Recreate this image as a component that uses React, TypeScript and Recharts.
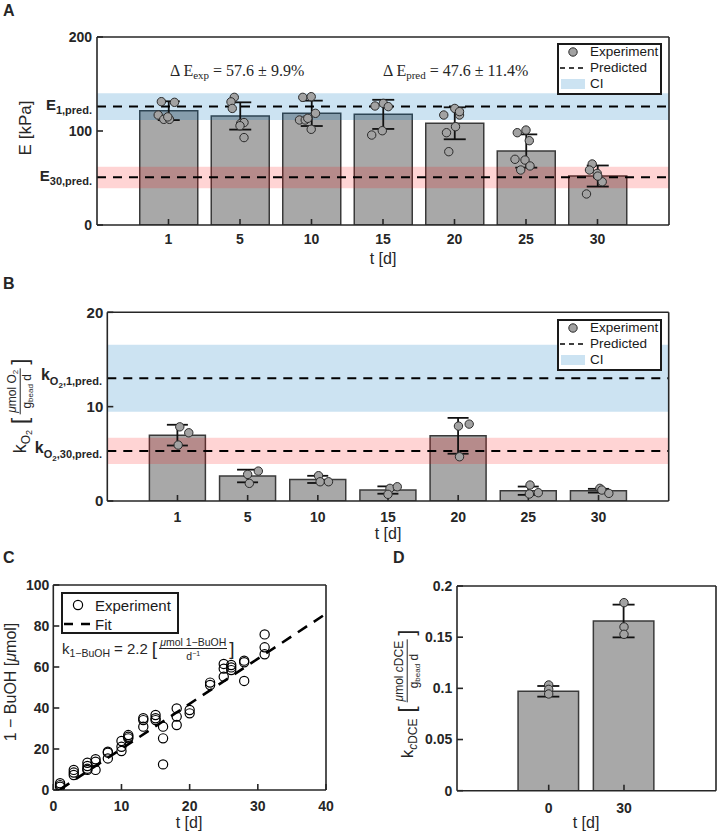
import React from "react";
import {
  Bar,
  ComposedChart,
  ErrorBar,
  Line,
  ReferenceArea,
  ReferenceLine,
  Scatter,
  XAxis,
  YAxis
} from "recharts";

const SANS = "'Liberation Sans', Arial, Helvetica, sans-serif";
const SERIF = "'Liberation Serif', 'Times New Roman', serif";
const INK = "#262626";

// shared day categories for A and B
const days = ["1", "5", "10", "15", "20", "25", "30"];
const dayPos = [1, 2, 3, 4, 5, 6, 7];

// A: E [kPa]
const eMean = [121.6, 116, 118.8, 117.7, 108.2, 78.7, 52.1];
const eSd = [10, 14.5, 13.5, 15.5, 17, 17.7, 11.2];
const eSamples = [
  [131.2, 130.5, 117, 112.4, 112.4, 115],
  [135.8, 131, 124, 108, 109, 105.6, 93],
  [135.8, 136.5, 118.8, 111.7, 111.7, 113.5, 101.8],
  [126.6, 129.4, 125.9, 95.7, 100.3],
  [124, 117, 117, 120.6, 104.6, 98.2, 78],
  [98.2, 101, 89.7, 69.9, 69.1, 62.8, 58.5],
  [64.9, 58.5, 54.9, 46, 33, 52]
];
const eJitter = [
  [-0.1, 0.084, -0.144, -0.066, 0.014, -0.01],
  [-0.08, -0.126, -0.108, 0.01, 0.056, 0, 0.056],
  [-0.122, -0.004, 0.056, -0.168, -0.088, -0.052, -0.004],
  [-0.112, 0.004, 0.074, -0.158, -0.01],
  [0.004, -0.15, 0.07, 0.07, 0.014, -0.112, -0.08],
  [-0.122, 0, 0.046, -0.154, -0.014, 0.056, -0.074],
  [-0.074, -0.112, -0.004, 0.066, -0.154, 0.004]
];
const ePred1 = 126;
const ePred30 = 50.7;
const eCi1 = [111.7, 140.1];
const eCi30 = [39, 62];

// B: k_O2
const kMean = [6.98, 2.65, 2.29, 1.16, 6.91, 1.09, 1.09];
const kSd = [1.1, 0.67, 0.38, 0.39, 1.9, 0.44, 0.2];
const kSamples = [
  [7.86, 7.23, 5.93],
  [2.82, 3.17, 1.87],
  [2.68, 2.04, 2.04],
  [1.34, 1.51, 0.71],
  [7.94, 8.15, 4.69],
  [1.69, 0.74, 0.88],
  [1.34, 1.16, 0.81]
];
const kJitter = [
  [0.033, 0.161, 0.01],
  [0, 0.152, 0.024],
  [0.01, 0.033, 0.152],
  [0.028, 0.132, 0],
  [0.004, 0.157, 0.019],
  [0.024, 0.014, 0.142],
  [0.019, 0.047, 0.147]
];
const kPred1 = 13.0;
const kPred30 = 5.3;
const kCi1 = [9.46, 16.56];
const kCi30 = [3.92, 6.7];

// C: 1-BuOH
const buohT = [1, 1, 1, 3, 3, 3, 5, 5, 5, 5, 6.2, 6.2, 6.2, 8, 8, 8, 10, 10, 10, 11, 11, 11, 13.2, 13.2, 13.2, 15, 15, 15, 16.1, 16.1, 16.1, 18.1, 18.1, 18.1, 20, 20, 23, 23, 25, 25, 25, 26.1, 26.1, 26.1, 28, 28, 28, 31, 31, 31];
const buohV = [3.3, 2.4, 1.6, 9.8, 8.5, 7.3, 13.3, 11.7, 10.4, 9.8, 15, 13.8, 9.8, 18.7, 18.2, 15.4, 23.9, 21.1, 19, 26.8, 26, 25.2, 35, 34.1, 30.9, 36.6, 35, 34.1, 30.9, 25.2, 12.5, 39.8, 35.8, 31.7, 39, 37.4, 52.4, 51.2, 61.5, 59.2, 55.3, 61, 59.8, 58.5, 63.1, 62.3, 53.2, 75.9, 69.6, 66.2];
const fitT = [1, 40];
const fitV = [0.3, 86];

// D: k_cDCE
const dDays = ["0", "30"];
const dPos = [1, 2];
const dMean = [0.0971, 0.1658];
const dSd = [0.0052, 0.016];
const dSamples = [
  [0.1033, 0.099, 0.0945],
  [0.1837, 0.16, 0.1528]
];

const eRows = dayPos.map((x, i) => ({ x, v: eMean[i], err: eSd[i] }));
const ePts = eSamples.flatMap((g, i) => g.map((v, j) => ({ x: dayPos[i] + eJitter[i][j], v })));
const kRows = dayPos.map((x, i) => ({ x, v: kMean[i], err: kSd[i] }));
const kPts = kSamples.flatMap((g, i) => g.map((v, j) => ({ x: dayPos[i] + kJitter[i][j], v })));
const buohPts = buohT.map((x, i) => ({ x, v: buohV[i] }));
const fitRows = fitT.map((x, i) => ({ x, v: fitV[i] }));
const dRows = dPos.map((x, i) => ({ x, v: dMean[i], err: dSd[i] }));
const dPts = dSamples.flatMap((g, i) => g.map((v) => ({ x: dPos[i], v })));

const frame = { stroke: INK, strokeWidth: 1.6 };
const tickFont = { fontSize: 14, fontWeight: 700, fill: INK, fontFamily: SANS };

function GrayDot(props: any) {
  return <circle cx={props.cx} cy={props.cy} r={4.2} fill="#a2a2a2" stroke="#2a2a2a" strokeWidth={1} />;
}

function OpenDot(props: any) {
  return <circle cx={props.cx} cy={props.cy} r={4.6} fill="none" stroke="#000" strokeWidth={1.2} />;
}

function At({ x, y, w = 200, align = "left", children, style }: any) {
  const st: React.CSSProperties = { position: "absolute", top: y, whiteSpace: "nowrap", lineHeight: 1, ...style };
  if (align === "right") {
    st.left = x - w;
    st.width = w;
    st.textAlign = "right";
  } else if (align === "center") {
    st.left = x - w / 2;
    st.width = w;
    st.textAlign = "center";
  } else {
    st.left = x;
  }
  return <div style={st}>{children}</div>;
}

function VLabel({ cx, cy, children, style }: any) {
  return (
    <div
      style={{
        position: "absolute",
        left: cx,
        top: cy,
        transform: "translate(-50%, -50%) rotate(-90deg)",
        whiteSpace: "nowrap",
        lineHeight: 1,
        display: "flex",
        alignItems: "center",
        ...style
      }}
    >
      {children}
    </div>
  );
}

function Sub({ size, dy, children, style }: any) {
  return <span style={{ fontSize: size, position: "relative", top: dy, ...style }}>{children}</span>;
}

function Frac({ num, den, size }: any) {
  return (
    <span
      style={{
        display: "inline-flex",
        flexDirection: "column",
        alignItems: "center",
        fontSize: size,
        lineHeight: 1.15,
        margin: "0 2px"
      }}
    >
      <span style={{ borderBottom: `1px solid ${INK}`, padding: "0 1px" }}>{num}</span>
      <span>{den}</span>
    </span>
  );
}

function PredLegend({ x, y }: any) {
  const row = (top: number, icon: React.ReactNode, label: string) => (
    <div style={{ position: "absolute", left: 0, top, height: 16, width: 101, display: "flex", alignItems: "center" }}>
      <svg width={28} height={16} style={{ flex: "none" }}>
        {icon}
      </svg>
      <span style={{ marginLeft: 3, fontSize: 13.5 }}>{label}</span>
    </div>
  );
  return (
    <div
      style={{
        position: "absolute",
        left: x,
        top: y,
        width: 105,
        height: 52,
        border: "2px solid #1a1a1a",
        boxSizing: "border-box",
        background: "#fff",
        fontFamily: SANS,
        color: "#1a1a1a",
        lineHeight: 1
      }}
    >
      {row(-1, <circle cx={14} cy={8} r={4.2} fill="#a2a2a2" stroke="#2a2a2a" />, "Experiment")}
      {row(15, <line x1={1} x2={27} y1={8} y2={8} stroke="#000" strokeWidth={1.5} strokeDasharray="5 4" />, "Predicted")}
      {row(31, <rect x={2} y={3} width={24} height={10} fill="#0072bd" fillOpacity={0.2} />, "CI")}
    </div>
  );
}

export default function App() {
  return (
    <div
      style={{
        position: "absolute",
        left: 0,
        top: 0,
        width: 719,
        height: 837,
        background: "#fff",
        overflow: "hidden",
        fontFamily: SANS,
        color: INK
      }}
    >
      {/* A */}
      <div style={{ position: "absolute", left: 0, top: 0 }}>
        <ComposedChart width={719} height={270} data={eRows} margin={{ top: 36, right: 49, bottom: 15, left: 57 }}>
          <XAxis xAxisId="b" dataKey="x" type="number" domain={[0, 8]} ticks={dayPos} tickFormatter={(v) => days[v - 1]} height={30} tickSize={-6} tickMargin={15} tick={tickFont} axisLine={frame} tickLine={frame} allowDataOverflow interval={0} />
          <XAxis xAxisId="t" dataKey="x" orientation="top" type="number" domain={[0, 8]} ticks={dayPos} height={1} tick={false} tickSize={-6} axisLine={frame} tickLine={frame} allowDataOverflow />
          <YAxis yAxisId="l" type="number" domain={[0, 200]} ticks={[0, 100, 200]} width={40} tickSize={-6} tickMargin={11} tick={tickFont} axisLine={frame} tickLine={frame} allowDataOverflow interval={0} />
          <YAxis yAxisId="r" orientation="right" type="number" domain={[0, 200]} ticks={[0, 100, 200]} width={1} tick={false} tickSize={-6} axisLine={frame} tickLine={frame} allowDataOverflow />
          <Bar xAxisId="b" yAxisId="l" dataKey="v" barSize={58} fill="#a8a8a8" stroke="#3a3a3a" strokeWidth={1.5} isAnimationActive={false}>
            <ErrorBar dataKey="err" width={11} stroke="#111" strokeWidth={1.8} direction="y" />
          </Bar>
          <ReferenceArea xAxisId="b" yAxisId="l" y1={eCi1[0]} y2={eCi1[1]} fill="#0072bd" fillOpacity={0.2} stroke="none" zIndex={350} />
          <ReferenceArea xAxisId="b" yAxisId="l" y1={eCi30[0]} y2={eCi30[1]} fill="#ff0000" fillOpacity={0.17} stroke="none" zIndex={350} />
          <ReferenceLine xAxisId="b" yAxisId="l" y={ePred1} stroke="#000" strokeWidth={2} strokeDasharray="9 7" zIndex={400} />
          <ReferenceLine xAxisId="b" yAxisId="l" y={ePred30} stroke="#000" strokeWidth={2} strokeDasharray="9 7" zIndex={400} />
          <Scatter xAxisId="t" yAxisId="l" data={ePts} dataKey="v" shape={<GrayDot />} isAnimationActive={false} />
        </ComposedChart>
      </div>

      {/* B */}
      <div style={{ position: "absolute", left: 0, top: 270 }}>
        <ComposedChart width={719} height={270} data={kRows} margin={{ top: 41.3, right: 49.3, bottom: 9, left: 67.3 }}>
          <XAxis xAxisId="b" dataKey="x" type="number" domain={[0, 8]} ticks={dayPos} tickFormatter={(v) => days[v - 1]} height={30} tickSize={-6} tickMargin={17} tick={tickFont} axisLine={frame} tickLine={frame} allowDataOverflow interval={0} />
          <XAxis xAxisId="t" dataKey="x" orientation="top" type="number" domain={[0, 8]} ticks={dayPos} height={1} tick={false} tickSize={-6} axisLine={frame} tickLine={frame} allowDataOverflow />
          <YAxis yAxisId="l" type="number" domain={[0, 20]} ticks={[0, 10, 20]} width={40} tickSize={-6} tickMargin={10} tick={{ ...tickFont, fontSize: 15 }} axisLine={frame} tickLine={frame} allowDataOverflow interval={0} />
          <YAxis yAxisId="r" orientation="right" type="number" domain={[0, 20]} ticks={[0, 10, 20]} width={1} tick={false} tickSize={-6} axisLine={frame} tickLine={frame} allowDataOverflow />
          <Bar xAxisId="b" yAxisId="l" dataKey="v" barSize={56} fill="#a8a8a8" stroke="#3a3a3a" strokeWidth={1.5} isAnimationActive={false}>
            <ErrorBar dataKey="err" width={10.5} stroke="#111" strokeWidth={1.8} direction="y" />
          </Bar>
          <ReferenceArea xAxisId="b" yAxisId="l" y1={kCi1[0]} y2={kCi1[1]} fill="#0072bd" fillOpacity={0.2} stroke="none" zIndex={350} />
          <ReferenceArea xAxisId="b" yAxisId="l" y1={kCi30[0]} y2={kCi30[1]} fill="#ff0000" fillOpacity={0.17} stroke="none" zIndex={350} />
          <ReferenceLine xAxisId="b" yAxisId="l" y={kPred1} stroke="#000" strokeWidth={2} strokeDasharray="9 7" zIndex={400} />
          <ReferenceLine xAxisId="b" yAxisId="l" y={kPred30} stroke="#000" strokeWidth={2} strokeDasharray="9 7" zIndex={400} />
          <Scatter xAxisId="t" yAxisId="l" data={kPts} dataKey="v" shape={<GrayDot />} isAnimationActive={false} />
        </ComposedChart>
      </div>

      {/* C */}
      <div style={{ position: "absolute", left: 0, top: 540 }}>
        <ComposedChart width={360} height={297} margin={{ top: 44, right: 33, bottom: 17, left: 13.3 }}>
          <XAxis xAxisId="b" dataKey="x" type="number" domain={[0, 40]} ticks={[0, 10, 20, 30, 40]} height={30} tickSize={-6} tickMargin={17} tick={tickFont} axisLine={frame} tickLine={frame} allowDataOverflow interval={0} />
          <XAxis xAxisId="t" orientation="top" type="number" domain={[0, 40]} ticks={[0, 10, 20, 30, 40]} height={1} tick={false} tickSize={-6} axisLine={frame} tickLine={frame} allowDataOverflow />
          <YAxis yAxisId="l" type="number" domain={[0, 100]} ticks={[0, 20, 40, 60, 80, 100]} width={40} tickSize={-6} tickMargin={10} tick={tickFont} axisLine={frame} tickLine={frame} allowDataOverflow interval={0} />
          <YAxis yAxisId="r" orientation="right" type="number" domain={[0, 100]} ticks={[0, 20, 40, 60, 80, 100]} width={1} tick={false} tickSize={-6} axisLine={frame} tickLine={frame} allowDataOverflow />
          <Line xAxisId="b" yAxisId="l" data={fitRows} dataKey="v" stroke="#000" strokeWidth={2.6} strokeDasharray="11 8" dot={false} isAnimationActive={false} />
          <Scatter xAxisId="b" yAxisId="l" data={buohPts} dataKey="v" shape={<OpenDot />} isAnimationActive={false} />
        </ComposedChart>
      </div>

      {/* D */}
      <div style={{ position: "absolute", left: 360, top: 540 }}>
        <ComposedChart width={359} height={297} data={dRows} margin={{ top: 45, right: 2, bottom: 16.3, left: 52 }}>
          <XAxis xAxisId="b" dataKey="x" type="number" domain={[-0.218, 3.222]} ticks={dPos} tickFormatter={(v) => dDays[v - 1]} height={30} tickSize={-6} tickMargin={18} tick={tickFont} axisLine={frame} tickLine={frame} allowDataOverflow interval={0} />
          <XAxis xAxisId="t" dataKey="x" orientation="top" type="number" domain={[-0.218, 3.222]} ticks={dPos} height={1} tick={false} tickSize={-6} axisLine={frame} tickLine={frame} allowDataOverflow />
          <YAxis yAxisId="l" type="number" domain={[0, 0.2]} ticks={[0, 0.05, 0.1, 0.15, 0.2]} width={45} tickSize={-6} tickMargin={10.7} tick={tickFont} axisLine={frame} tickLine={frame} allowDataOverflow interval={0} />
          <YAxis yAxisId="r" orientation="right" type="number" domain={[0, 0.2]} ticks={[0, 0.05, 0.1, 0.15, 0.2]} width={1} tick={false} tickSize={-6} axisLine={frame} tickLine={frame} allowDataOverflow />
          <Bar xAxisId="b" yAxisId="l" dataKey="v" barSize={60.5} fill="#a8a8a8" stroke="#3a3a3a" strokeWidth={1.5} isAnimationActive={false}>
            <ErrorBar dataKey="err" width={11} stroke="#111" strokeWidth={1.8} direction="y" />
          </Bar>
          <Scatter xAxisId="t" yAxisId="l" data={dPts} dataKey="v" shape={<GrayDot />} isAnimationActive={false} />
        </ComposedChart>
      </div>

      {/* panel letters */}
      <At x={3} y={3} style={{ fontSize: 16, fontWeight: 700 }}>A</At>
      <At x={3} y={276} style={{ fontSize: 16, fontWeight: 700 }}>B</At>
      <At x={3} y={550} style={{ fontSize: 16, fontWeight: 700 }}>C</At>
      <At x={393} y={550} style={{ fontSize: 16, fontWeight: 700 }}>D</At>

      {/* A texts */}
      <VLabel cx={25} cy={128} style={{ fontSize: 17 }}>E [kPa]</VLabel>
      <At x={383} y={251} align="center" style={{ fontSize: 16 }}>t [d]</At>
      <At x={92} y={97} align="right" style={{ fontSize: 15, fontWeight: 700 }}>
        E<Sub size={11} dy={4}>1,pred.</Sub>
      </At>
      <At x={92} y={168} align="right" style={{ fontSize: 15, fontWeight: 700 }}>
        E<Sub size={11} dy={4}>30,pred.</Sub>
      </At>
      <At x={170} y={63} style={{ fontSize: 16, fontFamily: SERIF }}>
        Δ E<Sub size={11} dy={3}>exp</Sub> = 57.6 ± 9.9%
      </At>
      <At x={383} y={63} style={{ fontSize: 16, fontFamily: SERIF }}>
        Δ E<Sub size={11} dy={3}>pred</Sub> = 47.6 ± 11.4%
      </At>
      <PredLegend x={557} y={43} />

      {/* B texts */}
      <VLabel cx={20} cy={406} style={{ fontSize: 18 }}>
        <span>
          k<Sub size={12} dy={4}>O<Sub size={9} dy={2}>2</Sub></Sub>
        </span>
        <span style={{ fontSize: 22, margin: "0 2px 0 6px", fontWeight: 300 }}>[</span>
        <Frac size={12} num={<span><i>μ</i>mol O<Sub size={8} dy={2}>2</Sub></span>} den={<span>g<Sub size={8} dy={2}>bead</Sub> d</span>} />
        <span style={{ fontSize: 22, marginLeft: 2, fontWeight: 300 }}>]</span>
      </VLabel>
      <At x={388} y={526} align="center" style={{ fontSize: 16 }}>t [d]</At>
      <At x={102} y={367} align="right" style={{ fontSize: 16, fontWeight: 700 }}>
        k<Sub size={11} dy={5}>O<Sub size={8} dy={3}>2</Sub>,1,pred.</Sub>
      </At>
      <At x={102} y={440} align="right" style={{ fontSize: 16, fontWeight: 700 }}>
        k<Sub size={11} dy={5}>O<Sub size={8} dy={3}>2</Sub>,30,pred.</Sub>
      </At>
      <PredLegend x={557} y={319} />

      {/* C texts */}
      <VLabel cx={11} cy={682} style={{ fontSize: 16 }}>
        1 − BuOH [<i>μ</i>mol]
      </VLabel>
      <At x={189} y={815} align="center" style={{ fontSize: 16 }}>t [d]</At>
      <div
        style={{
          position: "absolute",
          left: 61,
          top: 592,
          width: 118,
          height: 42,
          border: "2.5px solid #1a1a1a",
          boxSizing: "border-box",
          background: "#fff",
          fontSize: 15,
          lineHeight: 1,
          color: "#1a1a1a"
        }}
      >
        <div style={{ position: "absolute", left: 0, top: 2, height: 18, display: "flex", alignItems: "center" }}>
          <svg width={30} height={18}>
            <circle cx={15} cy={9} r={4.6} fill="none" stroke="#000" strokeWidth={1.2} />
          </svg>
          <span style={{ marginLeft: 2 }}>Experiment</span>
        </div>
        <div style={{ position: "absolute", left: 0, top: 21, height: 18, display: "flex", alignItems: "center" }}>
          <svg width={30} height={18}>
            <line x1={1} x2={29} y1={9} y2={9} stroke="#000" strokeWidth={2.6} strokeDasharray="9 8" />
          </svg>
          <span style={{ marginLeft: 2 }}>Fit</span>
        </div>
      </div>
      <div style={{ position: "absolute", left: 62, top: 636, display: "flex", alignItems: "center", whiteSpace: "nowrap", fontSize: 15, lineHeight: 1 }}>
        <span>
          k<Sub size={10.5} dy={3}>1−BuOH</Sub>
        </span>
        <span style={{ margin: "0 4px" }}>= 2.2</span>
        <span style={{ fontSize: 19, fontWeight: 300 }}>[</span>
        <Frac size={10.5} num={<span><i>μ</i>mol 1−BuOH</span>} den={<span>d<sup style={{ fontSize: 7 }}>−1</sup></span>} />
        <span style={{ fontSize: 19, fontWeight: 300 }}>]</span>
      </div>

      {/* D texts */}
      <VLabel cx={407} cy={694} style={{ fontSize: 17 }}>
        <span>
          k<Sub size={12} dy={4}><i>c</i>DCE</Sub>
        </span>
        <span style={{ fontSize: 22, margin: "0 2px 0 6px", fontWeight: 300 }}>[</span>
        <Frac size={12} num={<span><i>μ</i>mol <i>c</i>DCE</span>} den={<span>g<Sub size={8} dy={2}>bead</Sub> d</span>} />
        <span style={{ fontSize: 22, marginLeft: 2, fontWeight: 300 }}>]</span>
      </VLabel>
      <At x={586} y={815} align="center" style={{ fontSize: 16 }}>t [d]</At>
    </div>
  );
}
